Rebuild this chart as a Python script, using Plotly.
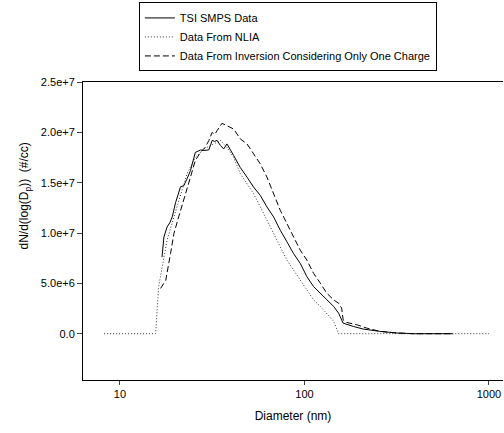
import plotly.graph_objects as go

# TSI SMPS data (diameter nm, dN/dlogDp in 1e6 #/cc)
tsi_d = [16.9, 17.3, 18.0, 18.6, 19.2, 20.0, 21.3, 22.2, 23.1, 24.1, 25.6, 27.3, 28.5,
         30.3, 31.6, 32.6, 33.6, 35.0, 36.5, 38.0, 41.3, 44.9, 48.8, 53.0, 57.6, 62.6,
         68.0, 73.9, 80.3, 87.2, 94.8, 103, 112, 122, 132, 144, 153, 162, 184, 208,
         256, 316, 388, 639]
tsi_v = [7.6, 9.6, 10.6, 11.0, 11.6, 13.0, 14.6, 14.7, 15.4, 16.2, 18.0, 18.25, 18.2,
         18.25, 19.2, 19.1, 19.2, 18.7, 18.35, 18.85, 17.7, 16.5, 15.55, 14.56, 13.74, 12.59,
         11.6, 10.28, 9.13, 7.97, 6.99, 5.67, 4.68, 4.02, 3.36, 2.70, 2.04, 1.05, 0.72, 0.46,
         0.23, 0.07, 0.0, 0.0]

# NLIA
nlia_d = [8.2, 15.6, 16.2, 16.9, 18.0, 19.6, 21.3, 23.1, 25.6, 28.5, 32.2, 35.0, 38.0,
          41.3, 44.9, 48.8, 53.0, 57.6, 62.6, 68.0, 73.9, 80.3, 87.2, 94.8, 103, 112,
          122, 132, 144, 153, 1000]
nlia_v = [0.0, 0.0, 4.68, 6.7, 9.3, 11.6, 13.9, 15.9, 17.5, 18.35, 18.85, 19.2, 18.5,
          17.5, 15.9, 14.9, 13.9, 12.6, 11.3, 9.95, 8.63, 7.31, 6.33, 5.34, 4.35, 3.36,
          2.70, 2.04, 1.22, 0.0, 0.0]

# Inversion considering only one charge
inv_d = [16.6, 17.7, 18.8, 19.6, 20.8, 22.2, 24.1, 25.6, 27.3, 29.0, 30.3, 31.6, 32.6,
         33.6, 35.7, 38.0, 41.3, 44.9, 48.8, 53.0, 57.6, 62.6, 68.0, 73.9, 80.3, 87.2,
         94.8, 103, 112, 122, 132, 144, 153, 159, 162, 169, 192, 217, 256, 316, 388, 639]
inv_v = [4.5, 5.3, 7.97, 9.95, 11.6, 13.25, 15.55, 17.2, 18.02, 18.52, 19.18, 20.0, 19.8,
         20.16, 20.89, 20.66, 20.33, 19.34, 18.85, 17.86, 16.87, 15.55, 13.9, 12.26, 10.94, 9.62,
         8.30, 7.31, 5.99, 5.01, 4.02, 3.36, 3.03, 2.54, 1.38, 1.12, 0.89, 0.56, 0.23, 0.07, 0.0, 0.0]

y_ticks = [0, 5e6, 1e7, 1.5e7, 2e7, 2.5e7]
y_ticktext = ["0.0", "5.0e+6", "1.0e+7", "1.5e+7", "2.0e+7", "2.5e+7"]
x_ticks = [10, 100, 1000]

def scale(v):
    return [x * 1e6 for x in v]

fig = go.Figure()
fig.add_trace(go.Scatter(x=tsi_d, y=scale(tsi_v), mode="lines", name="TSI SMPS Data",
                         line=dict(color="black", width=1)))
fig.add_trace(go.Scatter(x=nlia_d, y=scale(nlia_v), mode="lines", name="Data From NLIA",
                         line=dict(color="#333333", width=1, dash="1px,2px")))
fig.add_trace(go.Scatter(x=inv_d, y=scale(inv_v), mode="lines",
                         name="Data From Inversion Considering Only One Charge",
                         line=dict(color="black", width=1, dash="6px,3px")))

fig.update_layout(
    width=504, height=433,
    margin=dict(l=83, r=1, t=82, b=53, autoexpand=False),
    plot_bgcolor="white", paper_bgcolor="white",
    font=dict(family="Liberation Sans, Arial", size=11, color="black"),
    showlegend=True,
    legend=dict(x=0.133, y=1.267, xanchor="left", yanchor="top",
                bordercolor="black", borderwidth=1, bgcolor="white",
                font=dict(size=11), tracegroupgap=0, itemwidth=30),
    xaxis=dict(type="log", range=[0.7995, 3.076], tickvals=x_ticks,
               ticktext=["10", "100", "1000"], ticks="outside", ticklen=4,
               showline=True, linecolor="black", mirror=True, showgrid=False,
               zeroline=False, title=dict(text="Diameter (nm)", font=dict(size=12), standoff=12)),
    yaxis=dict(range=[-4.6e6, 2.5e7], tickvals=y_ticks, ticktext=y_ticktext,
               ticks="outside", ticklen=5, showline=True, linecolor="black",
               showgrid=False, zeroline=False),
    annotations=[dict(text="dN/d(log(D<sub>p</sub>))  (#/cc)", textangle=-90,
                      xref="paper", yref="paper", x=-0.162, y=0.619,
                      showarrow=False, font=dict(size=12))],
)

# page default margin would shift the figure by 8px
fig.write_html("out.html", config={"displayModeBar": False},
               post_script="document.body.style.margin='0';")
